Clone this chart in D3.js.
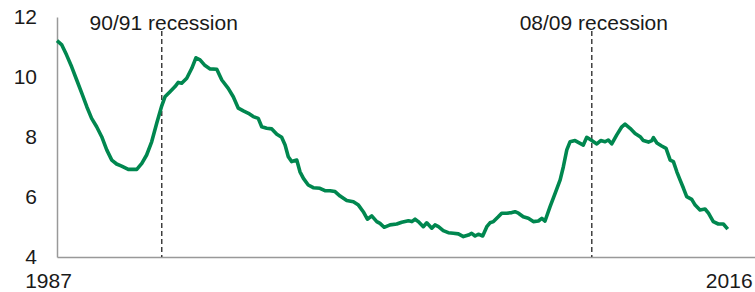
<!DOCTYPE html>
<html>
<head>
<meta charset="utf-8">
<script src="https://cdn.jsdelivr.net/npm/d3@7"></script>
<style>
  body { margin: 0; background: #fff; }
  #graf text { font-family: Arial, "Liberation Sans", sans-serif; fill: #1a1a1a; }
</style>
</head>
<body>
<svg id="graf" width="755" height="292"></svg>
<script>
// datos (año decimal, tasa %)
anios = [1987.00, 1987.21, 1987.42, 1987.64, 1987.86, 1988.08, 1988.30, 1988.51, 1988.73, 1988.95,
  1989.17, 1989.39, 1989.60, 1989.82, 1990.11, 1990.48, 1990.70, 1990.91, 1991.13, 1991.35,
  1991.57, 1991.71, 1991.93, 1992.15, 1992.29, 1992.44, 1992.66, 1992.88, 1993.06, 1993.24,
  1993.46, 1993.68, 1993.97, 1994.19, 1994.47, 1994.69, 1994.91, 1995.13, 1995.35, 1995.56,
  1995.78, 1995.93, 1996.15, 1996.37, 1996.59, 1996.80, 1996.95, 1997.09, 1997.24, 1997.46,
  1997.60, 1997.75, 1997.96, 1998.18, 1998.47, 1998.69, 1998.91, 1999.13, 1999.35, 1999.64,
  1999.93, 2000.15, 2000.36, 2000.54, 2000.73, 2000.95, 2001.09, 2001.27, 2001.53, 2001.82,
  2002.04, 2002.33, 2002.48, 2002.62, 2002.76, 2002.98, 2003.13, 2003.35, 2003.49, 2003.64,
  2003.85, 2004.07, 2004.29, 2004.51, 2004.73, 2004.95, 2005.09, 2005.24, 2005.38, 2005.57,
  2005.75, 2005.89, 2006.04, 2006.25, 2006.40, 2006.62, 2006.84, 2006.98, 2007.13, 2007.34,
  2007.56, 2007.78, 2008.00, 2008.15, 2008.29, 2008.51, 2008.73, 2008.95, 2009.09, 2009.24,
  2009.38, 2009.60, 2009.82, 2009.96, 2010.11, 2010.33, 2010.55, 2010.72, 2010.91, 2011.05,
  2011.20, 2011.42, 2011.64, 2011.78, 2012.00, 2012.22, 2012.44, 2012.58, 2012.80, 2012.95,
  2013.02, 2013.17, 2013.38, 2013.57, 2013.75, 2013.89, 2014.04, 2014.18, 2014.33, 2014.47,
  2014.69, 2014.84, 2015.05, 2015.27, 2015.42, 2015.63, 2015.85, 2016.07, 2016.26]

tasa = [11.21, 11.07, 10.73, 10.34, 9.90, 9.46, 9.01, 8.62, 8.34, 8.01,
  7.57, 7.23, 7.10, 7.03, 6.92, 6.92, 7.12, 7.40, 7.84, 8.46,
  9.04, 9.34, 9.51, 9.68, 9.82, 9.79, 9.96, 10.29, 10.64, 10.57,
  10.38, 10.27, 10.26, 9.90, 9.62, 9.34, 8.96, 8.87, 8.79, 8.68,
  8.62, 8.34, 8.29, 8.27, 8.09, 7.99, 7.73, 7.34, 7.18, 7.23,
  6.84, 6.62, 6.40, 6.31, 6.29, 6.21, 6.21, 6.18, 6.03, 5.88,
  5.84, 5.73, 5.51, 5.26, 5.37, 5.18, 5.12, 4.99, 5.07, 5.10,
  5.16, 5.21, 5.18, 5.26, 5.18, 5.01, 5.14, 4.96, 5.07, 5.01,
  4.88, 4.81, 4.79, 4.77, 4.68, 4.73, 4.79, 4.70, 4.76, 4.70,
  5.01, 5.14, 5.18, 5.34, 5.46, 5.46, 5.48, 5.51, 5.46, 5.34,
  5.29, 5.18, 5.20, 5.29, 5.20, 5.68, 6.12, 6.57, 7.01, 7.57,
  7.84, 7.88, 7.79, 7.73, 7.99, 7.88, 7.77, 7.88, 7.84, 7.90,
  7.77, 8.07, 8.34, 8.43, 8.29, 8.12, 8.01, 7.88, 7.83, 7.88,
  7.98, 7.80, 7.70, 7.62, 7.23, 7.18, 6.84, 6.57, 6.29, 6.01,
  5.92, 5.73, 5.57, 5.60, 5.46, 5.18, 5.10, 5.10, 4.93]

recesiones = [1991.57, 2010.33]
etiquetasRecesion = ['90/91 recession', '08/09 recession']
ticksY = [4, 6, 8, 10, 12]
ticksX = [1987, 2016.26]
etiquetasX = ['1987', '2016']

// I. Configuración
svg = d3.select('#graf')
margins = { top: 17, left: 57, right: 0, bottom: 35 }
ancho = 755 - margins.left - margins.right
alto = 292 - margins.top - margins.bottom

g = svg.append('g')
       .attr('transform', `translate(${ margins.left }, ${ margins.top })`)

x = d3.scaleLinear()
      .domain([1987, 2017.45])
      .range([0, ancho])

y = d3.scaleLinear()
      .domain([4, 12])
      .range([alto, 0])

datos = anios.map((a, i) => ({ anio: a, valor: tasa[i] }))

// ejes
yAxisCall = d3.axisLeft(y)
              .tickValues(ticksY)
              .tickSize(0)
              .tickPadding(20)
yAxisGroup = g.append('g').call(yAxisCall)

xAxisCall = d3.axisBottom(x)
              .tickValues(ticksX)
              .tickSize(0)
              .tickPadding(16.5)
              .tickFormat((d, i) => etiquetasX[i])
xAxisGroup = g.append('g')
              .attr('transform', `translate(0, ${ alto })`)
              .call(xAxisCall)

xAxisGroup.selectAll('.tick text').attr('dx', (d, i) => i == 0 ? '-9px' : '1px')

svg.selectAll('.domain')
   .attr('stroke', '#999')
   .attr('stroke-width', 1.5)
svg.selectAll('.tick text')
   .style('font-size', '21px')
   .attr('fill', '#1a1a1a')

// líneas de recesión
g.selectAll('line.recesion')
 .data(recesiones)
 .enter()
 .append('line')
   .attr('class', 'recesion')
   .attr('x1', d => x(d))
   .attr('x2', d => x(d))
   .attr('y1', 14)
   .attr('y2', alto)
   .attr('stroke', '#333')
   .attr('stroke-width', 1.4)
   .attr('stroke-dasharray', '5,3')

g.selectAll('text.recesion')
 .data(recesiones)
 .enter()
 .append('text')
   .attr('class', 'recesion')
   .attr('x', d => x(d) + 2)
   .attr('y', 12.5)
   .attr('text-anchor', 'middle')
   .style('font-size', '21px')
   .text((d, i) => etiquetasRecesion[i])

// serie
linea = d3.line()
          .x(d => x(d.anio))
          .y(d => y(d.valor))

g.append('path')
 .datum(datos)
 .attr('d', linea)
 .attr('fill', 'none')
 .attr('stroke', '#00874f')
 .attr('stroke-width', 3.6)
 .attr('stroke-linejoin', 'round')
</script>
</body>
</html>
